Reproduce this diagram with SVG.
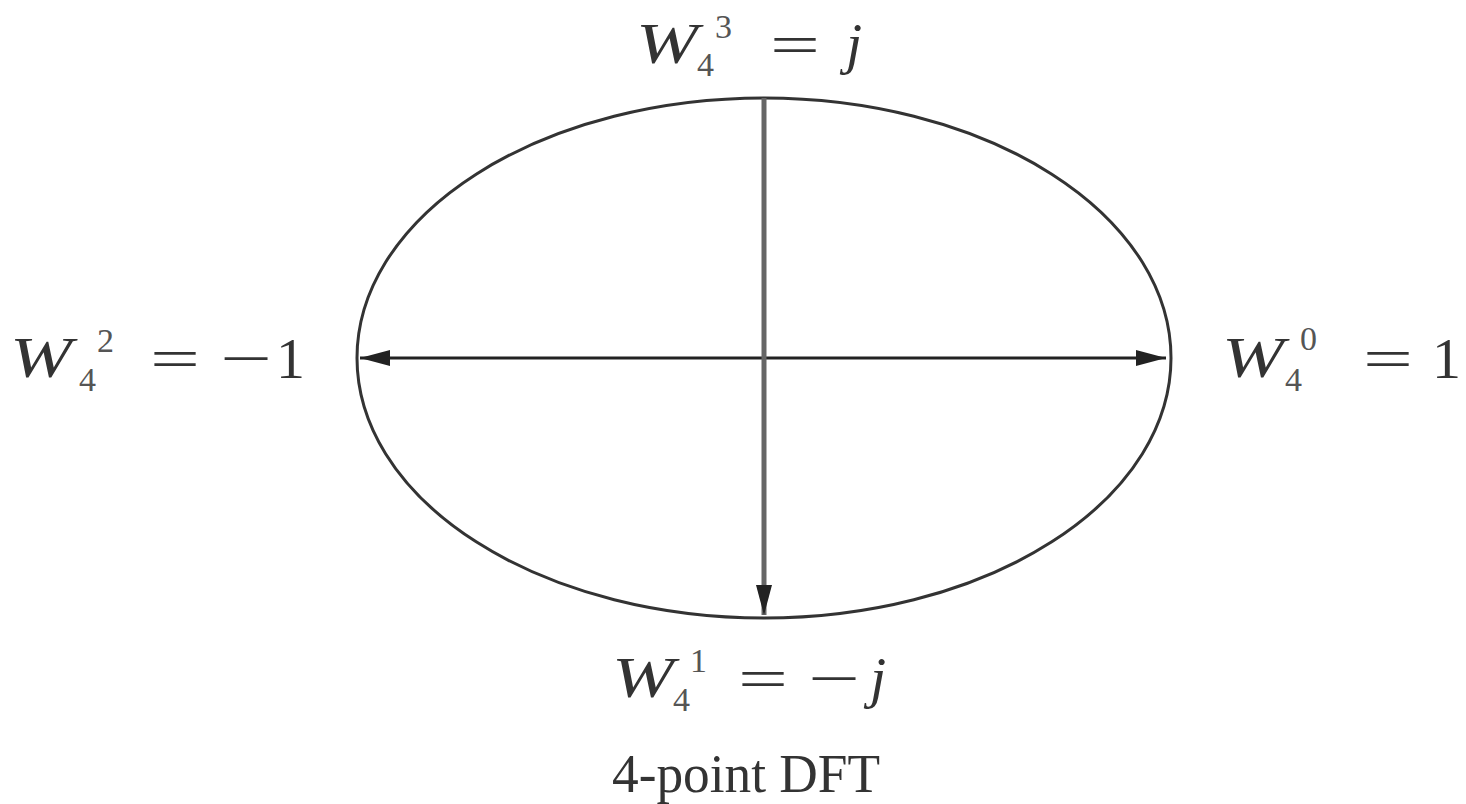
<svg xmlns="http://www.w3.org/2000/svg" width="1466" height="804" viewBox="0 0 1466 804">
<style>
.t{font-family:"Liberation Serif",serif;fill:#333;}
.w{font-style:italic;font-size:58px;}
.s{font-size:34px;fill:#555;}
.e{font-size:58px;}
</style>
<defs>
<marker id="ah" viewBox="0 0 10 10" refX="10" refY="5" markerWidth="30" markerHeight="16" markerUnits="userSpaceOnUse" orient="auto-start-reverse" preserveAspectRatio="none">
<path d="M0,0 L10,5 L0,10 z" fill="#222"/>
</marker>
</defs>
<rect width="1466" height="804" fill="#fff"/>
<g id="circle"><ellipse cx="764" cy="358" rx="407" ry="260" fill="none" stroke="#333" stroke-width="3"/></g>
<g id="connectors">
<line x1="360" y1="358" x2="1166" y2="358" stroke="#222" stroke-width="3" marker-start="url(#ah)" marker-end="url(#ah)"/>
<line x1="764" y1="98" x2="764" y2="615" stroke="#666" stroke-width="5" marker-end="url(#ah)"/>
</g>
<g id="top">
<text class="t w" x="636" y="63" textLength="62" lengthAdjust="spacingAndGlyphs">W</text>
<text class="t s" x="715" y="38">3</text>
<text class="t s" x="697" y="76">4</text>
<text class="t e" x="770" y="64" textLength="50" lengthAdjust="spacingAndGlyphs">=</text>
<text class="t w" x="846" y="63">j</text>
</g>
<g id="left">
<text class="t w" x="10" y="377" textLength="62" lengthAdjust="spacingAndGlyphs">W</text>
<text class="t s" x="97" y="352">2</text>
<text class="t s" x="79" y="391">4</text>
<text class="t e" x="150" y="378" textLength="50" lengthAdjust="spacingAndGlyphs">=</text>
<text class="t e" x="220" y="378" textLength="52" lengthAdjust="spacingAndGlyphs">−</text>
<text class="t e" x="276" y="378">1</text>
</g>
<g id="right">
<text class="t w" x="1222" y="377" textLength="62" lengthAdjust="spacingAndGlyphs">W</text>
<text class="t s" x="1300" y="350">0</text>
<text class="t s" x="1285" y="391">4</text>
<text class="t e" x="1363" y="378" textLength="50" lengthAdjust="spacingAndGlyphs">=</text>
<text class="t e" x="1432" y="378">1</text>
</g>
<g id="bottom">
<text class="t w" x="612" y="697" textLength="62" lengthAdjust="spacingAndGlyphs">W</text>
<text class="t s" x="690" y="672">1</text>
<text class="t s" x="673" y="711">4</text>
<text class="t e" x="738" y="698" textLength="50" lengthAdjust="spacingAndGlyphs">=</text>
<text class="t e" x="808" y="698" textLength="52" lengthAdjust="spacingAndGlyphs">−</text>
<text class="t w" x="870" y="697">j</text>
</g>
<g id="caption"><text class="t" x="612" y="792" font-size="54" textLength="268" lengthAdjust="spacingAndGlyphs">4-point DFT</text></g>
</svg>
